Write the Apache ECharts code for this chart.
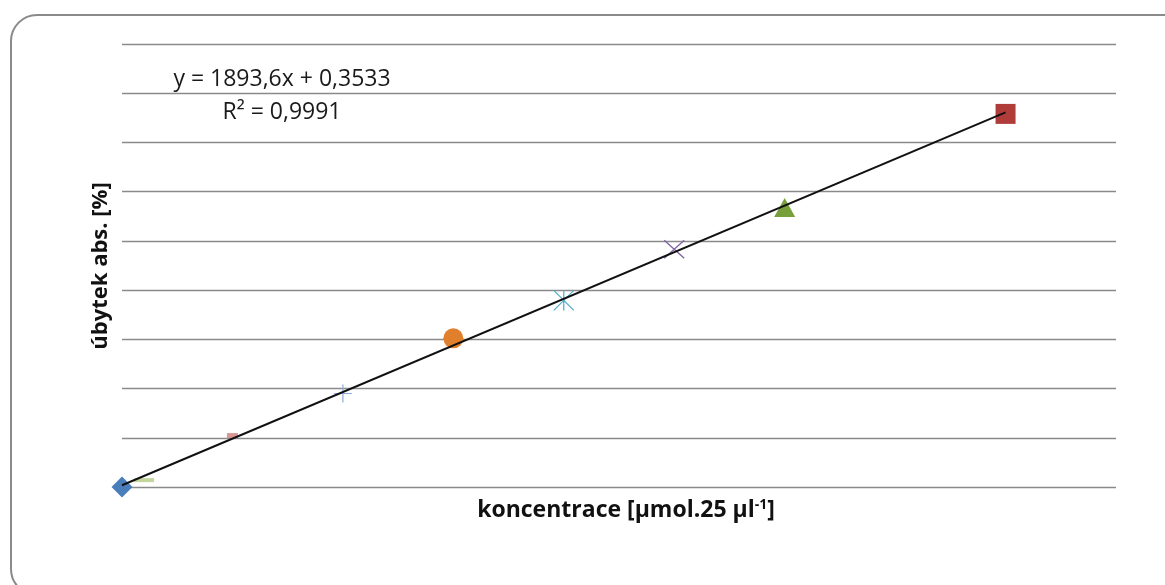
<!DOCTYPE html>
<html>
<head>
<meta charset="utf-8">
<script src="https://cdn.jsdelivr.net/npm/echarts@6/dist/echarts.min.js"></script>
<style>
  html, body { margin: 0; padding: 0; background: #fff; }
  #chart { width: 1165px; height: 585px; }
</style>
</head>
<body>
<div id="chart"></div>
<script>
// concentration [µmol.25 µl-1] and absorbance decrease [%], one point per series
const concentrations = [0, 0.001, 0.005, 0.01, 0.015, 0.02, 0.025, 0.03, 0.04];
const decreases = [0, 1.4, 10.45, 19.0, 30.2, 37.9, 48.3, 56.8, 75.8];
const markerNames = ['diamond', 'dash', 'smallRect', 'plus', 'circle', 'star', 'cross', 'triangle', 'rect'];
const markerColors = ['#4A7EBB', '#C3D69B', '#D99694', '#8EAADB', '#E07F2C', '#4BACC6', '#8064A2', '#77A03A', '#B03C3A'];

// linear trendline end points (y = 1893,6x + 0,3533)
const trendX = [0, 0.04];
const trendY = [0.35, 76.1];

const equationText = 'y = 1893,6x + 0,3533';
const rSquaredText = 'R² = 0,9991';

const FONT = '"Open Sans", Lato, sans-serif';

// marker look for each point
const symbolStyles = {
  diamond:   { symbol: 'diamond', size: 21, filled: true },
  dash:      { symbol: 'rect', size: [20, 4], filled: true },
  smallRect: { symbol: 'rect', size: [11, 5], filled: true },
  plus:      { symbol: 'path://M5,0L5,10M0,5L10,5', size: 18, filled: false },
  circle:    { symbol: 'circle', size: 20, filled: true },
  star:      { symbol: 'path://M0,0L10,10M10,0L0,10M5,0L5,10', size: [20, 20], filled: false },
  cross:     { symbol: 'path://M0,0L10,10M10,0L0,10', size: [20, 18], filled: false },
  triangle:  { symbol: 'triangle', size: [21, 19], filled: true },
  rect:      { symbol: 'rect', size: 20, filled: true },
};

const chart = echarts.init(document.getElementById('chart'));

const pointSeries = concentrations.map((x, i) => {
  const st = symbolStyles[markerNames[i]];
  return {
    type: 'scatter',
    name: markerNames[i],
    data: [[x, decreases[i]]],
    symbol: st.symbol,
    symbolSize: st.size,
    z: 2,
    itemStyle: st.filled
      ? { color: markerColors[i], opacity: 1 }
      : { color: 'transparent', borderColor: markerColors[i], borderWidth: 1.2, opacity: 1 },
  };
});

const option = {
  animation: false,
  backgroundColor: '#fff',
  grid: { left: 122, right: 49, top: 44, bottom: 98 },
  xAxis: {
    type: 'value',
    min: 0,
    max: 0.045,
    interval: 0.005,
    axisLine: { show: false },
    axisTick: { show: false },
    axisLabel: { show: false },
    splitLine: { show: false },
  },
  yAxis: {
    type: 'value',
    min: 0,
    max: 90,
    interval: 10,
    axisLine: { show: false },
    axisTick: { show: false },
    axisLabel: { show: false },
    splitLine: { show: true, lineStyle: { color: '#8a8a8a', width: 1.3 } },
  },
  graphic: [
    {
      type: 'rect',
      silent: true,
      shape: { x: 11, y: 15, width: 1180, height: 580, r: 26 },
      style: { fill: 'none', stroke: '#8a8a8a', lineWidth: 2 },
    },
    {
      type: 'text',
      x: 282, y: 79,
      style: { text: equationText, font: '23px ' + FONT, fill: '#1a1a1a', align: 'center', verticalAlign: 'middle' },
    },
    {
      type: 'text',
      x: 282, y: 112,
      style: { text: rSquaredText, font: '23px ' + FONT, fill: '#1a1a1a', align: 'center', verticalAlign: 'middle' },
    },
    {
      type: 'text',
      x: 101, y: 266,
      rotation: Math.PI / 2,
      style: { text: 'úbytek abs. [%]', font: 'bold 22px ' + FONT, fill: '#111', align: 'center', verticalAlign: 'middle' },
    },
    {
      type: 'text',
      x: 626, y: 510,
      style: {
        text: '{a|koncentrace [µmol.25 µl}{s|-1}{a|]}',
        align: 'center',
        verticalAlign: 'middle',
        rich: {
          a: { font: 'bold 23px ' + FONT, fill: '#111' },
          s: { font: 'bold 14px ' + FONT, fill: '#111', verticalAlign: 'top', padding: [0, 0, 10, 0] },
        },
      },
    },
  ],
  series: [
    {
      type: 'line',
      name: 'trend',
      data: trendX.map((x, i) => [x, trendY[i]]),
      showSymbol: false,
      symbol: 'none',
      z: 3,
      lineStyle: { color: '#111', width: 2 },
    },
    ...pointSeries,
  ],
};

chart.setOption(option);
</script>
</body>
</html>
